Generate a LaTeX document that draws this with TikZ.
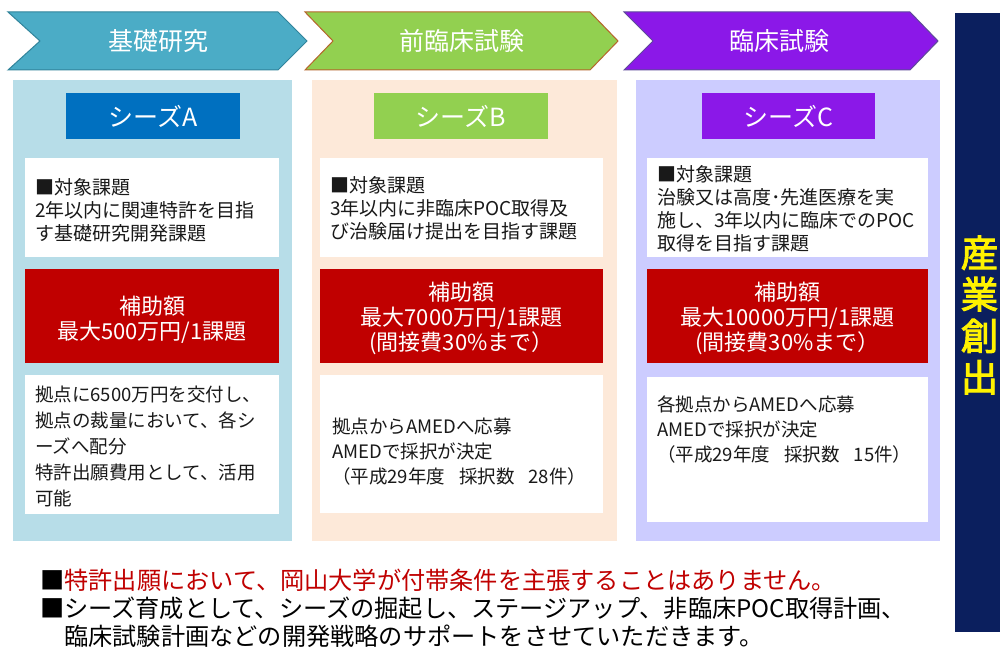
\documentclass[tikz,border=0pt]{standalone}
\usepackage{fontspec}
\setmainfont{Noto Sans CJK JP}
\newfontfamily\jpbold[FakeBold=2.5]{Noto Sans CJK JP}
\usetikzlibrary{fit}
\definecolor{chevA}{HTML}{4BACC6}
\definecolor{chevAline}{HTML}{31849B}
\definecolor{chevB}{HTML}{92D050}
\definecolor{chevBline}{HTML}{B5652B}
\definecolor{chevC}{HTML}{8B18E8}
\definecolor{chevCline}{HTML}{5E4A9A}
\definecolor{panA}{HTML}{B7DDE8}
\definecolor{panB}{HTML}{FDE9D9}
\definecolor{panC}{HTML}{CCCCFF}
\definecolor{seedA}{HTML}{0070C0}
\definecolor{seedB}{HTML}{92D050}
\definecolor{seedC}{HTML}{8B18E8}
\definecolor{redbox}{HTML}{C00000}
\definecolor{navy}{HTML}{0B1F5E}
\definecolor{txtred}{HTML}{C00000}
\begin{document}
\begin{tikzpicture}[x=1pt,y=-1pt,
  area/.style={inner sep=0pt, outer sep=0pt, draw=none},
  chevtext/.style={text=white, font=\fontsize{25}{28}\selectfont, inner sep=0pt},
  seedtext/.style={text=white, font=\fontsize{25}{27}\selectfont, inner sep=0pt},
  bodytext/.style={align=left, inner sep=0pt, anchor=west, text=black!90},
  topictext/.style={bodytext, font=\fontsize{19}{23}\selectfont},
  lowtext/.style={bodytext, font=\fontsize{18.5}{25}\selectfont},
  granttext/.style={align=center, inner sep=0pt, text=white, font=\fontsize{22}{25}\selectfont},
  foottext/.style={anchor=west, inner sep=0pt, font=\fontsize{24.2}{28}\selectfont}
]
\useasboundingbox (0,0) rectangle (1000,652);
\clip (0,0) rectangle (1000,652);
\fill[white] (0,0) rectangle (1000,652);

% chevrons
\draw[fill=chevA, draw=chevAline, line width=1pt] (8,12) -- (278,12) -- (307,41) -- (278,70) -- (8,70) -- (40,41) -- cycle;
\draw[fill=chevB, draw=chevBline, line width=1pt] (305,12) -- (590,12) -- (618,41) -- (590,70) -- (305,70) -- (333,41) -- cycle;
\draw[fill=chevC, draw=chevCline, line width=1pt] (624,12) -- (910,12) -- (938,41) -- (910,70) -- (624,70) -- (653,41) -- cycle;
\node[chevtext] (chA) at (158,41) {基礎研究};
\node[chevtext] (chB) at (462,41) {前臨床試験};
\node[chevtext] (chC) at (779,41) {臨床試験};

% navy bar
\node[area, fill=navy, fit={(955,13) (1010,632)}] (bar) {};
\node[inner sep=0pt, text=yellow, font=\jpbold\fontsize{37.5}{41.5}\selectfont, align=center] (barT) at (979.5,315) {産\\業\\創\\出};

% panels
\node[area, fill=panA, fit={(13,80) (292,541)}] (pA) {};
\node[area, fill=panB, fit={(312,80) (617,541)}] (pB) {};
\node[area, fill=panC, fit={(636,80) (940,541)}] (pC) {};

% seeds
\node[area, fill=seedA, fit={(66,93) (240,139)}] (sA) {};
\node[area, fill=seedB, fit={(374,93) (548,139)}] (sB) {};
\node[area, fill=seedC, fit={(702,93) (875,139)}] (sC) {};
\node[seedtext] (sAt) at (sA.center) {シーズA};
\node[seedtext] (sBt) at (sB.center) {シーズB};
\node[seedtext] (sCt) at (sC.center) {シーズC};

% topic boxes
\node[area, fill=white, fit={(25,158) (279,257)}] (tA) {};
\node[area, fill=white, fit={(320,158) (603,257)}] (tB) {};
\node[area, fill=white, fit={(647,158) (928,257)}] (tC) {};
\node[topictext] (tAt) at (35,210) {■対象課題\\2年以内に関連特許を目指\\す基礎研究開発課題};
\node[topictext] (tBt) at (330,208) {■対象課題\\3年以内に非臨床POC取得及\\び治験届け提出を目指す課題};
\node[topictext] (tCt) at (657,208.5) {■対象課題\\治験又は高度･先進医療を実\\施し、3年以内に臨床でのPOC\\取得を目指す課題};

% grant boxes
\node[area, fill=redbox, fit={(25,269) (279,363)}] (gA) {};
\node[area, fill=redbox, fit={(320,269) (603,363)}] (gB) {};
\node[area, fill=redbox, fit={(647,269) (928,363)}] (gC) {};
\node[granttext] (gAt) at (152,319.5) {補助額\\最大500万円/1課題};
\node[granttext] (gBt) at (461.5,318) {補助額\\最大7000万円/1課題\\(間接費30\%まで）};
\node[granttext] (gCt) at (787.5,318) {補助額\\最大10000万円/1課題\\(間接費30\%まで）};

% lower boxes
\node[area, fill=white, fit={(25,375) (279,514)}] (lA) {};
\node[area, fill=white, fit={(320,375) (603,513)}] (lB) {};
\node[area, fill=white, fit={(647,377) (928,522)}] (lC) {};
\node[lowtext, font=\fontsize{18.5}{25.8}\selectfont] (lAt) at (35,446.5) {拠点に6500万円を交付し、\\拠点の裁量において、各シ\\ーズへ配分\\特許出願費用として、活用\\可能};
\node[lowtext] (lBt) at (332,452) {拠点からAMEDへ応募\\AMEDで採択が決定\\（平成29年度\hspace{14pt}採択数\hspace{14pt}28件）};
\node[lowtext] (lCt) at (657,430) {各拠点からAMEDへ応募\\AMEDで採択が決定\\（平成29年度\hspace{14pt}採択数\hspace{14pt}15件）};

% footer
\node[foottext] (f1) at (40,580) {■\textcolor{txtred}{特許出願において、岡山大学が付帯条件を主張することはありません。}};
\node[foottext] (f2) at (40,608) {■シーズ育成として、シーズの掘起し、ステージアップ、非臨床POC取得計画、};
\node[foottext] (f3) at (64,636) {臨床試験計画などの開発戦略のサポートをさせていただきます。};
\end{tikzpicture}
\end{document}
